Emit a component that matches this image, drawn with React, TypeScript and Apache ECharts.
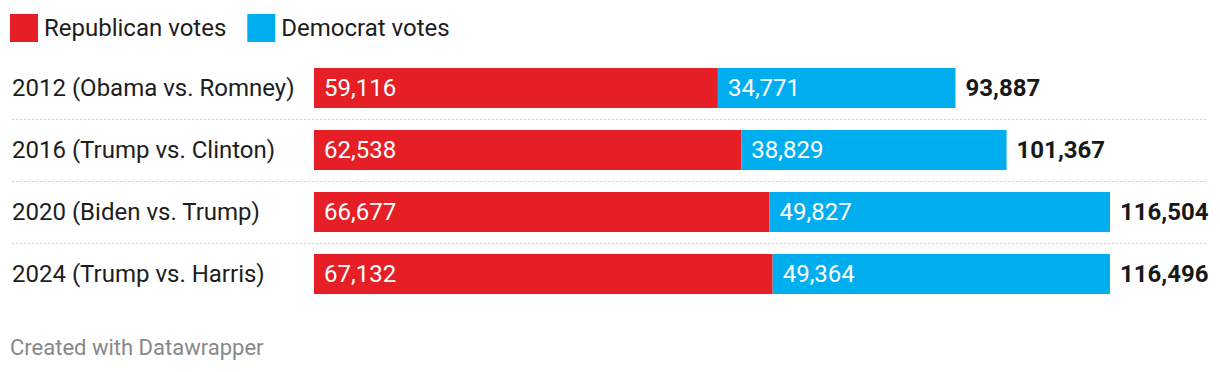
import React, { useEffect, useRef } from "react";
import * as echarts from "echarts";

const categories = [
  "2012 (Obama vs. Romney)",
  "2016 (Trump vs. Clinton)",
  "2020 (Biden vs. Trump)",
  "2024 (Trump vs. Harris)",
];
const republican = [59116, 62538, 66677, 67132];
const democrat = [34771, 38829, 49827, 49364];
const totals = [93887, 101367, 116504, 116496];

const RED = "#e61e25";
const BLUE = "#00aeef";
const TEXT = "#1d1d1d";
const FONT = "Roboto, 'Noto Sans', sans-serif";

const fmt = (v: number) => v.toLocaleString("en-US");

export default function App() {
  const ref = useRef<HTMLDivElement>(null);
  useEffect(() => {
    if (!ref.current) return;
    const chart = echarts.init(ref.current, undefined, { renderer: "svg" });
    const xMax = Math.max(...totals);
    chart.setOption({
      animation: false,
      textStyle: { fontFamily: FONT },
      legend: {
        left: 5,
        top: 9,
        icon: "rect",
        itemWidth: 28,
        itemHeight: 28,
        itemGap: 21,
        textStyle: { fontSize: 24, color: TEXT, fontFamily: FONT, padding: [0, 0, 0, 1] },
        data: ["Republican votes", "Democrat votes"],
      },
      grid: { left: 314, right: 110, top: 57, height: 248, containLabel: false },
      xAxis: {
        type: "value",
        min: 0,
        max: xMax,
        show: false,
      },
      yAxis: {
        type: "category",
        inverse: true,
        data: categories,
        axisLine: { show: false },
        axisTick: { show: false },
        splitLine: { show: false },
        axisLabel: {
          align: "left",
          margin: 302,
          fontSize: 24,
          color: TEXT,
          fontFamily: FONT,
        },
      },
      series: [
        {
          name: "Republican votes",
          type: "bar",
          stack: "votes",
          barWidth: 40,
          itemStyle: { color: RED },
          data: republican,
          label: {
            show: true,
            position: "insideLeft",
            distance: 10,
            color: "#fff",
            fontSize: 24,
            fontFamily: FONT,
            formatter: (p: any) => fmt(p.value),
          },
        },
        {
          name: "Democrat votes",
          type: "bar",
          stack: "votes",
          barWidth: 40,
          itemStyle: { color: BLUE },
          data: democrat,
          label: {
            show: true,
            position: "insideLeft",
            distance: 10,
            color: "#fff",
            fontSize: 24,
            fontFamily: FONT,
            formatter: (p: any) => fmt(p.value),
          },
        },
        {
          name: "Total",
          type: "scatter",
          symbolSize: 0,
          itemStyle: { opacity: 1, color: TEXT },
          data: totals.map((t, i) => [t, categories[i]]),
          label: {
            show: true,
            position: "right",
            distance: 10,
            color: "#181818",
            fontSize: 24,
            fontWeight: "bold",
            fontFamily: FONT,
            formatter: (p: any) => fmt(p.value[0]),
          },
          silent: true,
        },
      ],
    });

    // dotted separators between rows, computed from the category axis
    const ys = categories.map((c) => chart.convertToPixel({ yAxisIndex: 0 }, c) as number);
    const lines: any[] = [];
    for (let i = 0; i < ys.length - 1; i++) {
      const y = Math.round((ys[i] + ys[i + 1]) / 2) + 0.5;
      lines.push({
        type: "line",
        shape: { x1: 12, y1: y, x2: 1208, y2: y },
        style: { stroke: "#cfcfcf", lineWidth: 1, lineDash: [2, 2] },
        silent: true,
        z: -1,
      });
    }
    lines.push({
      type: "text",
      x: 10,
      y: 347,
      style: {
        text: "Created with Datawrapper",
        fontSize: 22,
        fill: "#888888",
        fontFamily: FONT,
        verticalAlign: "middle",
      },
    });
    chart.setOption({ graphic: lines });

    return () => chart.dispose();
  }, []);
  return (
    <div
      ref={ref}
      style={{ position: "fixed", left: 0, top: 0, width: 1220, height: 372, background: "#fff" }}
    />
  );
}
